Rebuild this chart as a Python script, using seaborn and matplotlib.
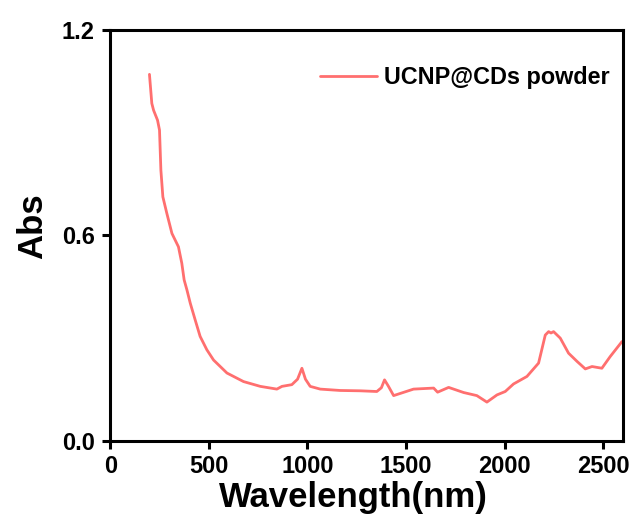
import pandas as pd
import seaborn as sns
import matplotlib.pyplot as plt

# Abs spectrum
wavelength = [199, 211, 220, 240, 250, 257, 267, 287, 313, 346, 363, 375, 389,
              406, 431, 456, 490, 524, 558, 592, 676, 761, 845, 871, 921, 950,
              972, 990, 1014, 1065, 1166, 1268, 1352, 1375, 1391, 1410, 1437,
              1538, 1640, 1660, 1716, 1792, 1859, 1910, 1961, 2003, 2045, 2113,
              2172, 2206, 2223, 2235, 2248, 2282, 2324, 2367, 2409, 2443, 2493,
              2535, 2595]
absorbance = [1.071, 0.986, 0.966, 0.937, 0.908, 0.791, 0.713, 0.665, 0.606,
              0.567, 0.519, 0.470, 0.441, 0.402, 0.353, 0.305, 0.266, 0.236,
              0.217, 0.198, 0.173, 0.159, 0.151, 0.159, 0.164, 0.180, 0.212,
              0.180, 0.159, 0.151, 0.147, 0.146, 0.144, 0.155, 0.178, 0.160,
              0.132, 0.151, 0.154, 0.142, 0.156, 0.141, 0.132, 0.113, 0.134,
              0.144, 0.166, 0.188, 0.227, 0.309, 0.319, 0.315, 0.319, 0.300,
              0.256, 0.232, 0.210, 0.217, 0.212, 0.246, 0.290]
series_name = "UCNP@CDs powder"
x_ticks = [0, 500, 1000, 1500, 2000, 2500]
y_ticks = [0.0, 0.6, 1.2]

df = pd.DataFrame({"Wavelength": wavelength, "Abs": absorbance})

# 스타일: 검은 테두리, 바깥쪽 눈금
sns.set_style("ticks", rc={"axes.edgecolor": "black", "xtick.color": "black",
                           "ytick.color": "black", "text.color": "black",
                           "axes.labelcolor": "black"})
plt.rcParams["font.family"] = ["Liberation Sans", "DejaVu Sans"]
plt.rcParams["font.weight"] = "bold"

fig = plt.figure(figsize=(6.37, 5.21), dpi=100)
ax = fig.add_axes([0.173, 0.154, 0.805, 0.788])

sns.lineplot(data=df, x="Wavelength", y="Abs", color="#FF6F6F",
             linewidth=2.0, label=series_name, ax=ax)

ax.set_xlim(0, 2600)
ax.set_ylim(0, 1.2)
ax.set_xticks(x_ticks)
ax.set_yticks(y_ticks)
ax.set_yticklabels([f"{v:.1f}" for v in y_ticks])
ax.tick_params(direction="out", length=6, width=2.2, labelsize=17)
ax.tick_params(axis="x", pad=4)
ax.tick_params(axis="y", pad=5)
for lab in ax.get_xticklabels() + ax.get_yticklabels():
    lab.set_fontweight("bold")
for sp in ax.spines.values():
    sp.set_visible(True)
    sp.set_linewidth(2.2)

ax.set_xlabel("Wavelength(nm)", fontsize=25, fontweight="bold")
ax.set_ylabel("Abs", fontsize=25, fontweight="bold")
ax.xaxis.set_label_coords(0.474, -0.097)
ax.yaxis.set_label_coords(-0.119, 0.523)

leg = ax.legend(loc="upper right", bbox_to_anchor=(0.992, 0.935),
                borderaxespad=0, frameon=False, fontsize=16.8,
                handlelength=2.45, handletextpad=0.3)
for t in leg.get_texts():
    t.set_fontweight("bold")

fig.savefig("out.png", dpi=100)
